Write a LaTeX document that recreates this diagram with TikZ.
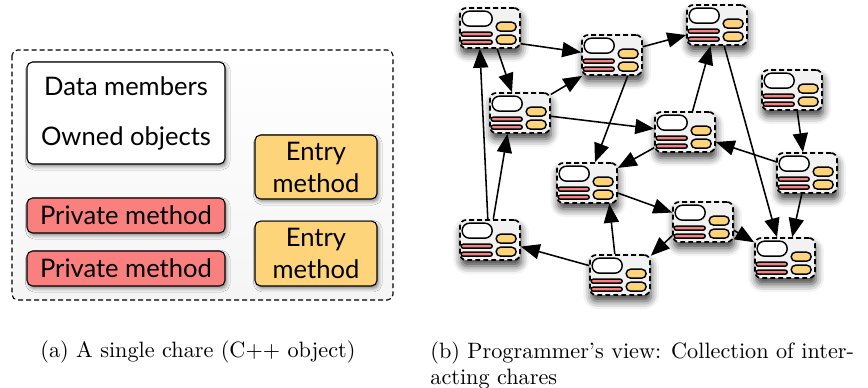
\documentclass[tikz,border=0pt]{standalone}
\usepackage{fontspec}
\usepackage{tikz}
\usetikzlibrary{calc,positioning,arrows.meta,shadows.blur}
\newfontfamily\gillfont{Lato}
\definecolor{red1}{RGB}{250,128,128}
\definecolor{orange1}{RGB}{254,212,122}

\begin{document}
\begin{tikzpicture}[x=0.45pt, y=-0.45pt,
  box/.style={draw, line width=0.5pt, rounded corners=2.5pt, inner sep=0pt, align=center,
    font=\gillfont\fontsize{11.5}{14.4}\selectfont,
    blur shadow={shadow xshift=0.8pt, shadow yshift=-1.2pt, shadow blur radius=1.5pt, shadow opacity=45}},
  chare/.style={draw, line width=0.75pt, dash pattern=on 2.2pt off 1.4pt, rounded corners=2.7pt,
    minimum width=27pt, minimum height=18pt, inner sep=0pt, fill=gray!10,
    blur shadow={shadow xshift=0.5pt, shadow yshift=-2.8pt, shadow blur radius=3.5pt, shadow opacity=75}},
  part/.style={draw, line width=0.65pt},
  link/.style={line width=0.7pt, -{Triangle[length=8.5pt,width=6.8pt]}}]

\useasboundingbox (0,0) rectangle (868,387);

% (a) SINGLE CHARE
\draw[line width=0.5pt, dash pattern=on 2.2pt off 1.4pt, rounded corners=2.5pt,
  top color=white, bottom color=gray!8] (12,50) rectangle (393,300);
\node[box, fill=white, minimum width=89.1pt, minimum height=45.9pt] (data) at (126,113)
  {Data members\\[8.1pt]Owned objects};
\node[box, fill=orange1, minimum width=54.9pt, minimum height=28.8pt] (entry1) at (316,167) {Entry\\method};
\node[box, fill=orange1, minimum width=54.9pt, minimum height=29.2pt] (entry2) at (316,253.5) {Entry\\method};
\node[box, fill=red1, minimum width=89.1pt, minimum height=15.75pt] (priv1) at (126,215.5) {Private method};
\node[box, fill=red1, minimum width=89.1pt, minimum height=15.75pt] (priv2) at (126,268.5) {Private method};

% (b) COLLECTION OF CHARES
\foreach \n/\gx/\gy in {g1/460/8, g2/582/35, g3/687/5, g4/490/93, g5/762/70, g6/655/112,
  g7/777/153, g8/557/163, g9/673/202, g10/460/220, g11/590/255, g12/755/238} {
  \node[chare] (\n) at (\gx+30,\gy+20) {};
  \begin{scope}[shift={(\n.north west)}]
    \draw[part, fill=white, rounded corners=3.3pt] (3,4) rectangle (33,19);
    \draw[part, fill=red1, rounded corners=0.9pt] (2,25) rectangle (33,29);
    \draw[part, fill=red1, rounded corners=0.9pt] (2,33) rectangle (33,37);
    \draw[part, fill=orange1, rounded corners=2pt] (37,15) rectangle (57,24);
    \draw[part, fill=orange1, rounded corners=2pt] (37,28) rectangle (57,37);
  \end{scope}
}

% messages
\draw[link] (g1.-27) -- (g2.175);
\draw[link] (g1.-71) -- (g4.111);
\draw[link] (g4.31) -- (g2.215);
\draw[link] (g2.15) -- (g3.198);
\draw[link] (g10.96) -- (g1.244);
\draw[link] (g10.81) -- (g4.239);
\draw[link] (g4.-6) -- (g6.174);
\draw[link] (g2.-53) -- (g8.69);
\draw[link] (g6.70) -- (g3.253);
\draw[link] (g6.207) -- (g8.26);
\draw[link] (g7.160) -- (g6.-18);
\draw[link] (g5.-76) -- (g7.101);
\draw[link] (g3.-71) -- (g12.111);
\draw[link] (g7.256) -- (g12.71);
\draw[link] (g8.-18) -- (g9.163);
\draw[link] (g9.-15) -- (g12.153);
\draw[link] (g9.204) -- (g11.32);
\draw[link] (g11.104) -- (g8.-43);
\draw[link] (g11.163) -- (g10.-12);

% captions
\node[anchor=west, inner sep=0pt] (capa) at (40,352) {(a) A single chare (C++ object)};
\node[anchor=north west, align=left, inner sep=0pt] (capb) at (430,341)
  {(b) Programmer's view: Collection of inter-\\acting chares};

\end{tikzpicture}
\end{document}
